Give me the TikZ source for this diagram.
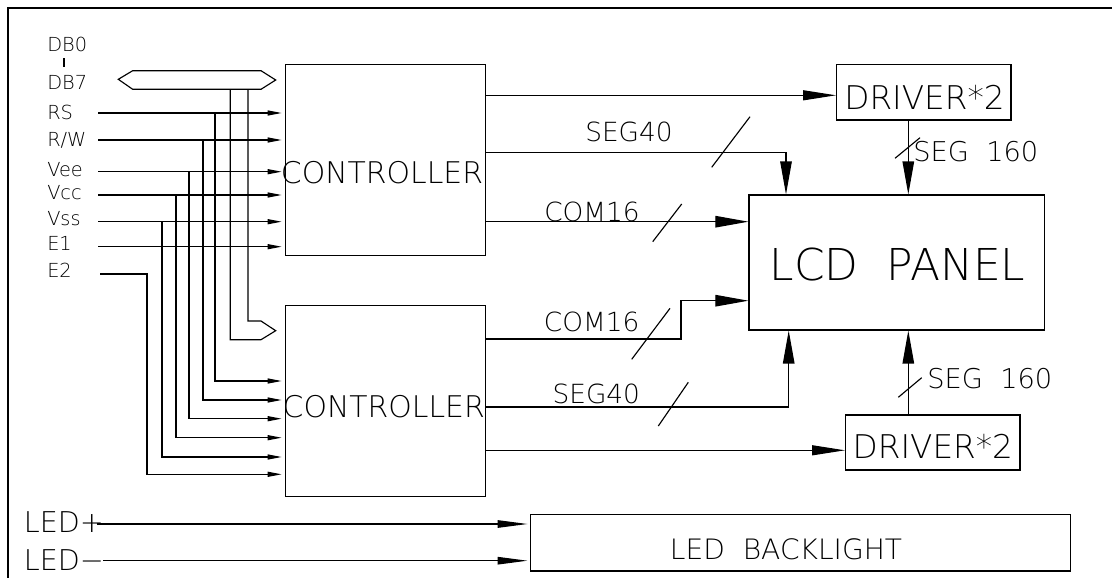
\documentclass[tikz,border=0pt]{standalone}
\usepackage{fontspec}
\setmainfont{DejaVu Sans ExtraLight}
\usetikzlibrary{arrows.meta,calc}

\newcommand\cadsize[1]{\fontsize{#1}{#1}\selectfont}

\tikzset{
  blk/.style={draw, inner sep=0pt},
  lbl/.style={inner sep=0pt, anchor=base},
  pinlbl/.style={inner sep=0pt, anchor=base west, font=\cadsize{11}},
  siglbl/.style={lbl, font=\cadsize{15}},
  pin/.style={-{Triangle[length=0.28cm,width=0.1cm]}, shorten >=0.06cm},
  bus/.style={-{Triangle[length=0.66cm,width=0.23cm]}},
  drv/.style={-{Triangle[length=0.66cm,width=0.2cm]}},
  ledarr/.style={-{Triangle[length=0.6cm,width=0.15cm]}, shorten >=0.04cm},
}

\begin{document}
\begin{tikzpicture}[x=0.02cm, y=-0.02cm, line width=0.65pt]
  \useasboundingbox (0,0) rectangle (1112,578);
  \draw (1112,8) -- (8,8) -- (8,578); % frame

  % blocks
  \node[blk, minimum width=4.01cm, minimum height=3.83cm] (ctrlA) at (385.5,160) {};
  \node[blk, minimum width=4.01cm, minimum height=3.83cm] (ctrlB) at (385.5,401) {};
  \node[blk, minimum width=3.49cm, minimum height=1.11cm] (drvA) at (923.8,92.3) {};
  \node[blk, minimum width=3.49cm, minimum height=1.1cm] (drvB) at (932.8,442.5) {};
  \node[blk, minimum width=5.91cm, minimum height=2.7cm] (lcd) at (896.7,262.5) {};
  \node[blk, minimum width=10.81cm, minimum height=1.13cm] (led) at (800.3,542.7) {};

  \node[lbl, font=\cadsize{17}] (ctrlAtxt) at (382,183.3) {CONTROLLER};
  \node[lbl, font=\cadsize{17}] (ctrlBtxt) at (383.8,417.3) {CONTROLLER};
  \node[lbl, font=\cadsize{18.6}] (drvAtxt) at (924.5,109) {DRIVER*2};
  \node[lbl, font=\cadsize{18.6}] (drvBtxt) at (932.8,458.3) {DRIVER*2};
  \node[lbl, font=\cadsize{25}] (lcdtxt) at (897.5,280) {LCD\ \ PANEL};
  \node[lbl, font=\cadsize{16}] (ledtxt) at (786,559) {LED\ \ BACKLIGHT};

  % pin names
  \foreach \nm/\txt/\yy in {db0/DB0/51.7, db7/DB7/89, rs/RS/119, rw/{R/W}/146.7,
      vee/Vee/176.7, vcc/Vcc/199.3, vss/Vss/225.7, e1/E1/250.7, e2/E2/277.3}
    \node[pinlbl] (\nm) at (46.7,\yy) {\txt};
  \draw (64,58.3) -- (64,66.7); % DB0..DB7

  % data bus
  \draw (118.3,79.3) -- (132.7,70.7) -- (261,70.7) -- (275.7,80) -- (261,89.3) -- (132.7,89.3) -- cycle;
  \draw (248,89.3) |- (261,321) -- (275.7,330.7) -- (261,339.7) -| (230.3,89.3);

  % control lines, tapped for the second controller
  \foreach \nm/\yy/\bx/\by in {rs/113/215/381, rw/140/203/400, vee/171.7/189/418.7,
      vcc/195/176/437.7, vss/221.7/162/457}{
    \coordinate (\nm in) at (98.3,\yy);
    \coordinate (\nm tap) at (\bx,\yy);
    \draw[pin] (\nm in) -- (\nm in -| ctrlA.west);
    \draw[pin] (\nm tap) |- (ctrlB.west |- 0,\by);
  }
  \coordinate (e1in) at (98.3,246.7);
  \draw[pin] (e1in) -- (e1in -| ctrlA.west);
  \coordinate (e2in) at (100,274);
  \draw[pin] (e2in) -| (147,474.3) -- (ctrlB.west |- 0,474.3);

  % upper controller outputs
  \draw[drv] (ctrlA.east |- 0,95.3) -- (drvA.west |- 0,95.3);
  \coordinate (segA) at (786,152.3);
  \draw[bus] (ctrlA.east |- segA) -| (segA |- lcd.north);
  \draw[bus] (ctrlA.east |- 0,221.7) -- (lcd.west |- 0,221.7);

  % lower controller outputs
  \coordinate (comB) at (681,300.7);
  \draw[bus] (ctrlB.east |- 0,339) -| (comB) -- (lcd.west |- comB);
  \coordinate (segB) at (788.7,407);
  \draw[bus] (ctrlB.east |- segB) -| (segB |- lcd.south);
  \draw[drv] (ctrlB.east |- 0,450.3) -- (drvB.west |- 0,450.3);

  % drivers to panel
  \coordinate (seg160) at (908.3,0);
  \draw[bus] (drvA.south -| seg160) -- (lcd.north -| seg160);
  \draw[bus] (drvB.north -| seg160) -- (lcd.south -| seg160);

  % bus width slashes
  \draw (711.7,167.3) -- (750,116.7);
  \draw (652.7,241.7) -- (681.7,204);
  \draw (631.7,359.3) -- (670,308.3);
  \draw (658.3,426) -- (688.3,382.3);
  \draw (895,158.3) -- (920,137.7);
  \draw (898.3,397.3) -- (921.7,377.7);

  \node[siglbl] (segAtxt) at (629,141.7) {SEG40};
  \node[siglbl] (comAtxt) at (592,221.7) {COM16};
  \node[siglbl] (comBtxt) at (591.7,331.7) {COM16};
  \node[siglbl] (segBtxt) at (596.3,403.3) {SEG40};
  \node[lbl, font=\cadsize{15.5}] (s160Atxt) at (975.8,161.7) {SEG\ \ 160};
  \node[lbl, font=\cadsize{15.5}] (s160Btxt) at (989.8,388.3) {SEG\ \ 160};

  % backlight
  \node[inner sep=0pt, anchor=base west, font=\cadsize{16.3}] (ledp) at (23.3,532.3) {LED+};
  \node[inner sep=0pt, anchor=base west, font=\cadsize{16.3}] (ledm) at (23.3,570.7) {LED−};
  \coordinate (ledpin) at (96.7,524);
  \coordinate (ledmin) at (103.3,560.7);
  \draw[ledarr] (ledpin) -- (led.west |- ledpin);
  \draw[ledarr] (ledmin) -- (led.west |- ledmin);
\end{tikzpicture}
\end{document}
